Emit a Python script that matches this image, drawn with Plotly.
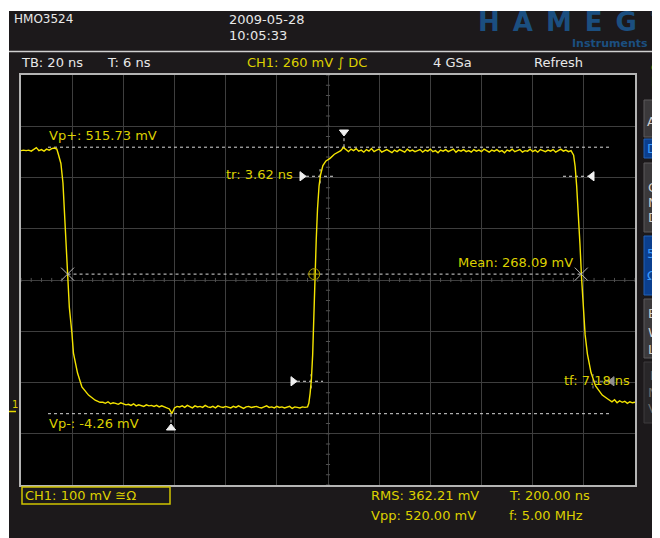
import plotly.graph_objects as go

# ---------------- data ----------------
# time in ns, voltage in mV
high1_t = list(range(-120, -105))
high1_v = [509, 510, 509, 510, 508, 511, 515, 509, 511, 508, 512, 510, 513, 514, 512]

fall1_t = [-105.4, -104.4, -103.6, -103.1, -102.5, -101.8, -101.1, -100.1, -99.5, -97.9, -96.2, -93.6, -91.0, -89.1]
fall1_v = [502, 484, 446, 393, 335, 270, 203, 153, 114, 75, 48, 32, 22, 18]

low_t = list(range(-88, -8))
low_v = [18, 16, 19, 15, 17, 16, 14, 17, 15, 13,
         14, 12, 15, 11, 13, 12, 10, 13, 11, 12,
         10, 12, 9, 11, 9, 8, 5, -4, 7, 10,
         9, 11, 8, 12, 10, 7, 11, 9, 10, 8,
         12, 9, 8, 10, 7, 11, 9, 8, 10, 9,
         7, 10, 8, 11, 9, 6, 9, 10, 8, 9,
         10, 8, 7, 9, 11, 8, 9, 7, 10, 8,
         9, 7, 8, 10, 6, 9, 8, 7, 9, 8]

rise_t = [-8.0, -7.5, -7.0, -6.5, -6.0, -5.6, -5.1, -4.6, -4.1, -3.5, -2.9, -2.0, -0.8, 0.8, 2.5, 4.2]
rise_v = [9, 16, 35, 62, 110, 185, 262, 335, 395, 440, 462, 480, 489, 494, 502, 507]

high_t = list(range(5, 96))
high_v = [509, 515, 511, 507, 512, 509, 513, 508, 510, 506,
          511, 508, 513, 507, 510, 512, 506, 509, 511, 508,
          505, 510, 507, 511, 509, 506, 512, 508, 510, 507,
          509, 511, 506, 510, 508, 512, 507, 509, 505, 510,
          508, 511, 507, 509, 512, 506, 510, 508, 511, 507,
          509, 506, 511, 508, 510, 507, 512, 509, 506, 510,
          508, 511, 507, 509, 505, 510, 508, 512, 507, 509,
          511, 506, 509, 508, 512, 507, 510, 506, 511, 509,
          507, 510, 508, 511, 506, 509, 512, 508, 510, 507,
          509]

fall2_t = [96.0, 96.6, 97.2, 97.9, 98.5, 99.1, 99.8, 100.5, 101.4, 102.8, 104.6, 107.2, 109.5]
fall2_v = [500, 478, 440, 385, 325, 262, 200, 150, 112, 76, 50, 32, 24]

tail_t = list(range(110, 121))
tail_v = [22, 19, 23, 17, 21, 18, 20, 16, 19, 17, 18]

# measurement values
vp_plus = 515.73
vp_minus = -4.26
mean_v = 268.09
lvl_10 = 59
lvl_90 = 459

# ---------------- geometry helpers (reference-screenshot pixels) ----------------
OFF = 8                        # page body margin
L, R, T, B = 21, 635, 75, 485  # plot area in screenshot pixels
SW, SH = 660, 538              # screenshot size
W, H = SW - OFF, SH - OFF      # figure size (fits the window with the body margin)
def px(x):
    return (x - L) / (R - L)
def py(y):
    return (B - y) / (B - T)

X_RANGE = [-120, 120]
Y_RANGE = [-143.4, 656.6]
def t_of(x):
    return X_RANGE[0] + (x - L) / (R - L) * (X_RANGE[1] - X_RANGE[0])
def v_of(y):
    return Y_RANGE[0] + (B - y) / (B - T) * (Y_RANGE[1] - Y_RANGE[0])

YEL = "#dcd000"
TRACE = "#f4e400"
WHITE = "#e8e8e8"
DOT = "#d8d8d8"
FONT = "DejaVu Sans"

fig = go.Figure()

# minor ticks on the centre lines
mx, my = [], []
k = X_RANGE[0]
while k <= X_RANGE[1] + 1e-9:
    mx += [k, k, None]
    my += [256.6 - 4, 256.6 + 4, None]
    k += 4
k = Y_RANGE[0]
while k <= Y_RANGE[1] + 1e-9:
    mx += [-0.8, 0.8, None]
    my += [k, k, None]
    k += 20
fig.add_trace(go.Scatter(x=mx, y=my, mode="lines", line=dict(color="#505050", width=1),
                         hoverinfo="skip", showlegend=False))

def dotted(xs, ys, color=DOT):
    fig.add_trace(go.Scatter(x=xs, y=ys, mode="lines", line=dict(color=color, width=1, dash="dot"),
                             hoverinfo="skip", showlegend=False, cliponaxis=False))

dotted([t_of(48), t_of(609)], [vp_plus, vp_plus])
dotted([t_of(48), t_of(609)], [vp_minus, vp_minus])
dotted([-101.8, 99.0], [mean_v, mean_v])
dotted([6.25, 6.25], [vp_plus, v_of(137)])
dotted([t_of(171), t_of(171)], [vp_minus, v_of(424)])
dotted([t_of(306), t_of(333)], [lvl_90, lvl_90])
dotted([t_of(297), t_of(323)], [lvl_10, lvl_10])
dotted([-3.1, -3.1], [lvl_90 - 14, lvl_90 + 14])
dotted([-6.6, -6.6], [lvl_10 - 14, lvl_10 + 14])
dotted([t_of(563), t_of(588)], [lvl_90, lvl_90])
dotted([t_of(594), t_of(608)], [lvl_10, lvl_10], "#909090")
dotted([t_of(593), t_of(593)], [lvl_10 - 14, lvl_10 + 14], "#909090")

# waveform
wave_t = high1_t + fall1_t + low_t + rise_t + high_t + fall2_t + tail_t
wave_v = high1_v + fall1_v + low_v + rise_v + high_v + fall2_v + tail_v
fig.add_trace(go.Scatter(x=wave_t, y=wave_v, mode="lines", line=dict(color=TRACE, width=1.4),
                         hoverinfo="skip", showlegend=False))

# crossing markers
fig.add_trace(go.Scatter(x=[-101.8, 99.0], y=[mean_v, mean_v], mode="markers",
                         marker=dict(symbol="x-thin", size=13, line=dict(color="#b8b8b8", width=1)),
                         hoverinfo="skip", showlegend=False))
fig.add_trace(go.Scatter(x=[-5.4], y=[mean_v], mode="markers",
                         marker=dict(symbol="circle-cross-open", size=11, color="#a89800",
                                     line=dict(color="#a89800", width=1)),
                         hoverinfo="skip", showlegend=False))

def tri(x, y, sym, color, size=8):
    fig.add_trace(go.Scatter(x=[x], y=[y], mode="markers",
                             marker=dict(symbol=sym, size=size, color=color,
                                         line=dict(color=color, width=1)),
                             hoverinfo="skip", showlegend=False, cliponaxis=False))

tri(6.25, v_of(132), "triangle-down", "#f0f0f0")
tri(t_of(171), v_of(428), "triangle-up", "#f0f0f0")
tri(t_of(302), lvl_90, "triangle-right", "#f0f0f0")
tri(t_of(293), lvl_10, "triangle-right", "#f0f0f0")
tri(t_of(592), lvl_90, "triangle-left", "#f0f0f0")
tri(t_of(612), lvl_10, "triangle-left", "#909090")
tri(-6.0, v_of(71), "triangle-down", "#e8d800", 7)
tri(0.0, v_of(73), "triangle-down-open", "#909090", 7)
tri(t_of(18), 0, "triangle-right", "#e8d800", 6)

shapes = []
# thin white strips (top / left edge of the screenshot)
shapes.append(dict(type="rect", xref="paper", yref="paper", x0=px(0), x1=px(9), y0=py(560), y1=py(0),
                   fillcolor="white", line=dict(width=0), layer="above"))
shapes.append(dict(type="rect", xref="paper", yref="paper", x0=px(0), x1=px(680), y0=py(11), y1=py(0),
                   fillcolor="white", line=dict(width=0), layer="above"))
# header separator
shapes.append(dict(type="line", xref="paper", yref="paper", x0=px(9), x1=px(670), y0=py(51.5), y1=py(51.5),
                   line=dict(color="#d0d0d0", width=1.5)))
# ground marker stem
shapes.append(dict(type="line", xref="paper", yref="paper", x0=px(9), x1=px(16), y0=py(411.5), y1=py(411.5),
                   line=dict(color="#e8d800", width=1.5)))
# bottom CH1 box
shapes.append(dict(type="rect", xref="paper", yref="paper", x0=px(22), x1=px(170), y0=py(504), y1=py(487),
                   line=dict(color="#d0c400", width=1.5), fillcolor="rgba(0,0,0,0)"))

# right-hand buttons
buttons = [
    (100, 137, "#3b393b", "#5c5a5c"),
    (139, 158, "#0b3f8e", "#2262b8"),
    (163, 232, "#3b393b", "#5c5a5c"),
    (236, 295, "#0b3f8e", "#2262b8"),
    (299, 358, "#3b393b", "#5c5a5c"),
    (362, 423, "#282628", "#3c3a3c"),
]
for y0, y1, fc, lc in buttons:
    shapes.append(dict(type="rect", xref="paper", yref="paper", x0=px(644), x1=px(672), y0=py(y1), y1=py(y0),
                       fillcolor=fc, line=dict(color=lc, width=1)))

ann = []
def text(x, y, s, color=WHITE, size=13, xanchor="left", bold=False, family=FONT):
    if bold:
        s = "<b>" + s + "</b>"
    ann.append(dict(x=px(x), y=py(y), xref="paper", yref="paper", text=s, showarrow=False,
                    xanchor=xanchor, yanchor="middle", font=dict(color=color, size=size, family=family)))

# header
text(12, 19, "HMO3524", size=12)
text(227, 19, "2009-05-28", size=13)
text(227, 36, "10:05:33", size=13)
text(557, 22, "H\u2002A\u2002M\u2002E\u2002G", color="#1b4f80", size=26, xanchor="center", bold=True)
text(648, 14, "®", color="#1b4f80", size=8)
text(650, 44, "Instruments", color="#1b4f80", size=11, xanchor="right", bold=True)
text(19, 63, "TB: 20 ns")
text(105, 63, "T: 6 ns")
text(245, 63, "CH1: 260 mV ∫ DC", color=YEL)
text(431, 63, "4 GSa")
text(532, 63, "Refresh")

# right panel
text(649, 68, "C", color=YEL, size=12)
text(649, 82, "H", color=YEL, size=12)
text(649, 96, "1", color=YEL, size=12)
text(645, 121, "AC", color="#d0d0d0", size=13)
text(645, 148, "DC", color="#3d9cff", size=13)
text(646, 187, "G", color="#d0d0d0", size=13)
text(646, 202, "N", color="#d0d0d0", size=13)
text(646, 217, "D", color="#d0d0d0", size=13)
text(645, 253, "50", color="#3d9cff", size=13)
text(645, 275, "Ω", color="#3d9cff", size=13)
text(646, 313, "B", color="#d0d0d0", size=13)
text(646, 332, "W", color="#d0d0d0", size=13)
text(646, 350, "L", color="#d0d0d0", size=13)
text(648, 375, "I", color="#6c6c6c", size=13)
text(646, 392, "N", color="#6c6c6c", size=13)
text(646, 408, "V", color="#6c6c6c", size=13)

# in-plot measurement labels
text(47, 135, "Vp+: 515.73 mV", color=YEL)
text(224, 174, "tr: 3.62 ns", color=YEL)
text(456, 263, "Mean: 268.09 mV", color=YEL)
text(47, 423, "Vp-: -4.26 mV", color=YEL)
text(562, 380, "tf: 7.18 ns", color=YEL)
text(10, 404, "1", color=YEL, size=10)

# bottom
text(23, 495.5, "CH1: 100 mV ≅Ω", color=YEL)
text(369, 495, "RMS: 362.21 mV", color=YEL)
text(369, 515, "Vpp: 520.00 mV", color=YEL)
text(507, 495, "T: 200.00 ns", color=YEL)
text(507, 515, "f: 5.00 MHz", color=YEL)

fig.update_layout(
    width=W, height=H, autosize=False,
    margin=dict(l=L - OFF, r=W - (R - OFF), t=T - OFF, b=H - (B - OFF), pad=0),
    paper_bgcolor="#1c191b", plot_bgcolor="#000000",
    shapes=shapes, annotations=ann, showlegend=False,
    xaxis=dict(range=X_RANGE, tick0=-120, dtick=20, showgrid=True, gridcolor="#3e3e3e", gridwidth=1,
               zeroline=False, showticklabels=False, ticks="", showline=True, mirror=True,
               linecolor="#b4b4b4", linewidth=1.5, fixedrange=True),
    yaxis=dict(range=Y_RANGE, tick0=56.6, dtick=100, showgrid=True, gridcolor="#3e3e3e", gridwidth=1,
               zeroline=False, showticklabels=False, ticks="", showline=True, mirror=True,
               linecolor="#b4b4b4", linewidth=1.5, fixedrange=True),
)

fig.write_html("out.html")
